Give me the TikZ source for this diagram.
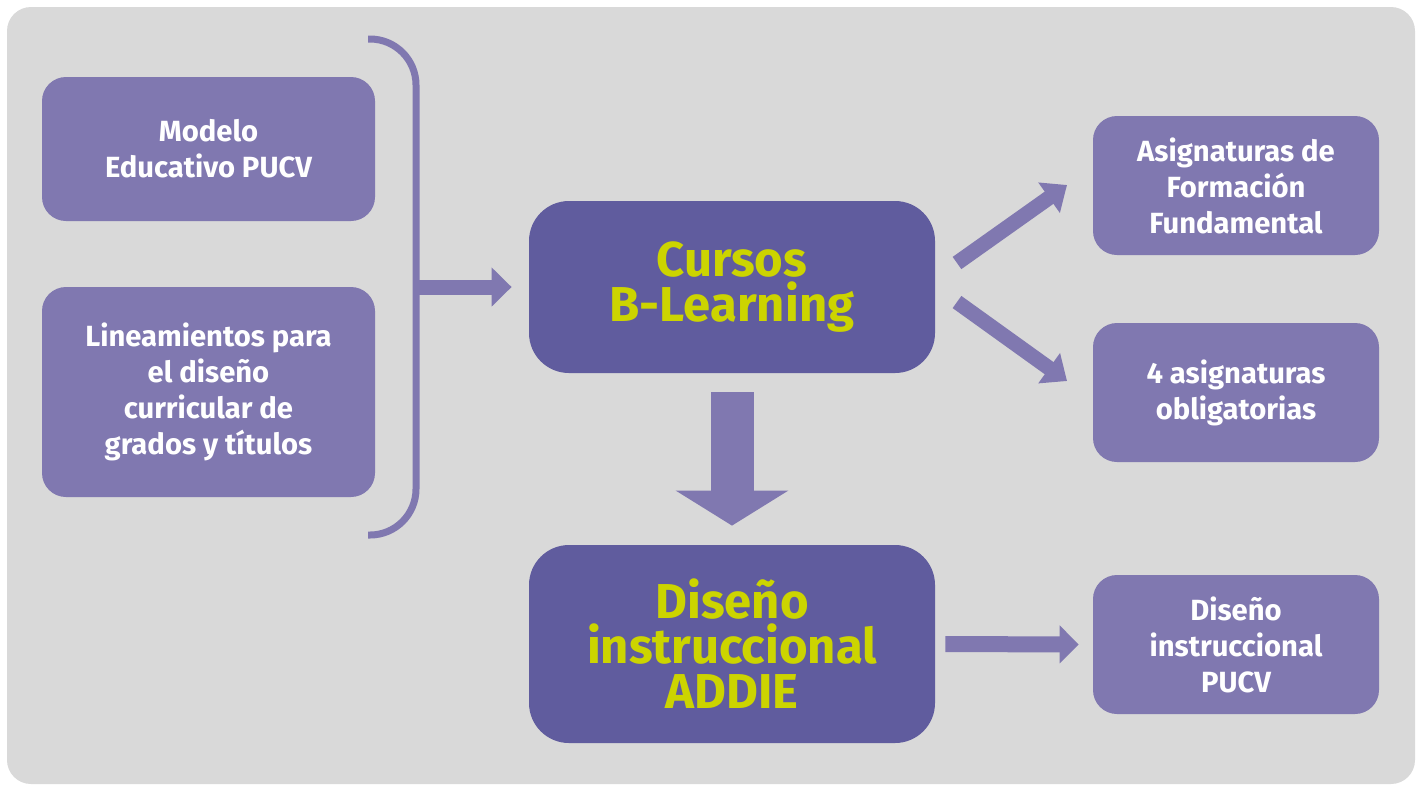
\documentclass[tikz,border=0pt]{standalone}
\usepackage{fontspec}
\setmainfont{Fira Sans}
\usetikzlibrary{positioning,arrows.meta}

\definecolor{fondo}{RGB}{217,217,217}
\definecolor{lila}{RGB}{128,120,176}
\definecolor{morado}{RGB}{96,92,158}
\definecolor{limon}{RGB}{204,212,0}

\tikzset{
  caja/.style={fill=lila, rounded corners=12pt, text=white, align=center,
    font=\fontsize{14.6}{18}\selectfont\bfseries, minimum width=166.5pt, inner sep=0pt},
  cajagrande/.style={fill=morado, rounded corners=20pt, text=limon, align=center,
    font=\fontsize{24.5}{22.5}\selectfont\bfseries, minimum width=203pt, inner sep=0pt},
  cajader/.style={caja, minimum width=143pt, minimum height=69.5pt},
  flecha/.style={draw=lila, line width=7.5pt,
    -{Triangle[length=10pt,width=19pt]}},
}

\begin{document}
\begin{tikzpicture}[x=0.5pt, y=-0.5pt]
  \useasboundingbox (0,0) rectangle (1418,784);
  \fill[fondo, rounded corners=12pt] (7,7) rectangle (1415,784);

  % columna izquierda
  \node (modelo) [caja, minimum height=72pt] at (208.5,149) {Modelo\\Educativo PUCV};
  \node (lineam) [caja, minimum height=105pt] at (208.5,392) {Lineamientos para\\el diseño\\curricular de\\grados y títulos};

  % llave
  \coordinate (llavearr) at (368,39);
  \coordinate (llavemed) at (416,287);
  \coordinate (llaveab) at (368,535);
  \draw[lila, line width=3.5pt, rounded corners=23pt] (llavearr) -| (llavemed) |- (llaveab);

  % centro
  \node (cursos) [cajagrande, minimum height=86pt] at (732,287) {Cursos\\B-Learning};
  \node (addie) [cajagrande, minimum height=99pt] at (732,644) {Diseño\\instruccional\\ADDIE};

  % derecha
  \node (formacion) [cajader] at (1236,185.5) {Asignaturas de\\Formación\\Fundamental};
  \node (obligat) [cajader] at (1236,392.5) {4 asignaturas\\obligatorias};
  \node (pucv) [cajader] at (1236,644.5) {Diseño\\instruccional\\PUCV};

  % flechas
  \draw[flecha, shorten >=8.5pt] (llavemed) -- (cursos.west);
  \draw[draw=lila, line width=21.5pt, -{Triangle[length=17.5pt,width=55.5pt]},
    shorten <=9.5pt, shorten >=9.5pt] (cursos.south) -- (addie.north);
  \coordinate (subecola) at (957,263);
  \coordinate (subepunta) at (1067,185);
  \coordinate (bajacola) at (957,302);
  \coordinate (bajapunta) at (1067,381);
  \draw[flecha, -{Triangle[length=11pt,width=18pt]}] (subecola) -- (subepunta);
  \draw[flecha, -{Triangle[length=11pt,width=18pt]}] (bajacola) -- (bajapunta);
  \draw[flecha, line width=8pt, -{Triangle[length=9.5pt,width=18.5pt]},
    shorten <=5pt, shorten >=7pt] (addie.east) -- (pucv.west);
\end{tikzpicture}
\end{document}
